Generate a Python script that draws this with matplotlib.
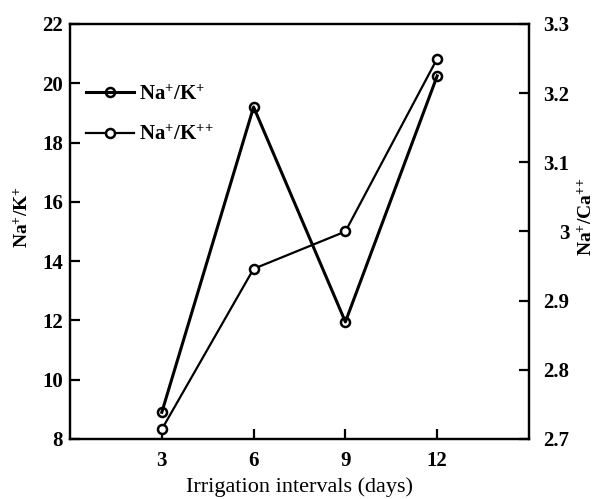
import matplotlib
matplotlib.use("Agg")
import matplotlib.pyplot as plt

plt.rcParams['font.family'] = ['Liberation Serif', 'DejaVu Serif']
plt.rcParams['mathtext.fontset'] = 'custom'
plt.rcParams['mathtext.rm'] = 'Liberation Serif'
plt.rcParams['mathtext.bf'] = 'Liberation Serif:bold'

# данные
days = [3, 6, 9, 12]
na_k = [8.9, 19.2, 11.95, 20.25]      # левая ось
na_ca = [2.714, 2.946, 3.0, 3.25]     # правая ось

fig = plt.figure(figsize=(6, 4.99), dpi=100)
ax = fig.add_axes([70 / 600, 1 - 439 / 499, 459 / 600, 415 / 499])
ax2 = ax.twinx()

l1, = ax.plot(days, na_k, color='black', lw=2.2, marker='o', ms=6.5,
              mfc='none', mec='black', mew=1.8)
l2, = ax2.plot(days, na_ca, color='black', lw=1.6, marker='o', ms=6.5,
               mfc='white', mec='black', mew=1.8, zorder=3)

ax.set_xlim(0, 15)
ax.set_ylim(8, 22)
ax2.set_ylim(2.7, 3.3)
ax.set_xticks(days)
ax.set_yticks([8, 10, 12, 14, 16, 18, 20, 22])
ax2.set_yticks([2.7, 2.8, 2.9, 3.0, 3.1, 3.2, 3.3])
ax2.set_yticklabels(['2.7', '2.8', '2.9', '3', '3.1', '3.2', '3.3'])

for a in (ax, ax2):
    for s in a.spines.values():
        s.set_linewidth(1.6)
ax.tick_params(axis='both', direction='in', length=7, width=1.6,
               labelsize=15, pad=5)
ax.tick_params(axis='x', pad=9)
ax2.tick_params(axis='y', direction='in', length=7, width=1.6,
                labelsize=15, pad=29)
for lab in ax2.get_yticklabels():
    lab.set_horizontalalignment('right')
for lab in ax.get_xticklabels() + ax.get_yticklabels() + ax2.get_yticklabels():
    lab.set_fontweight('bold')

ax.set_xlabel('Irrigation intervals (days)', fontsize=16)
ax.xaxis.set_label_coords(0.5, -0.092)
ax.set_ylabel(r'$\mathbf{Na^{+}/K^{+}}$', fontsize=14)
ax.yaxis.set_label_coords(-0.083, 0.535)
ax2.set_ylabel(r'$\mathbf{Na^{+}/Ca^{{+}{+}}}$', fontsize=14, rotation=90)
ax2.yaxis.set_label_coords(1.104, 0.535)

ax.legend([l1, l2], [r'$\mathbf{Na^{+}/K^{+}}$', r'$\mathbf{Na^{+}/K^{{+}{+}}}$'],
          loc='upper left', bbox_to_anchor=(0.035, 0.853), frameon=False,
          fontsize=15, handlelength=2.3, handletextpad=0.25,
          labelspacing=1.0, borderpad=0, borderaxespad=0)

fig.savefig('out.png', dpi=100)
